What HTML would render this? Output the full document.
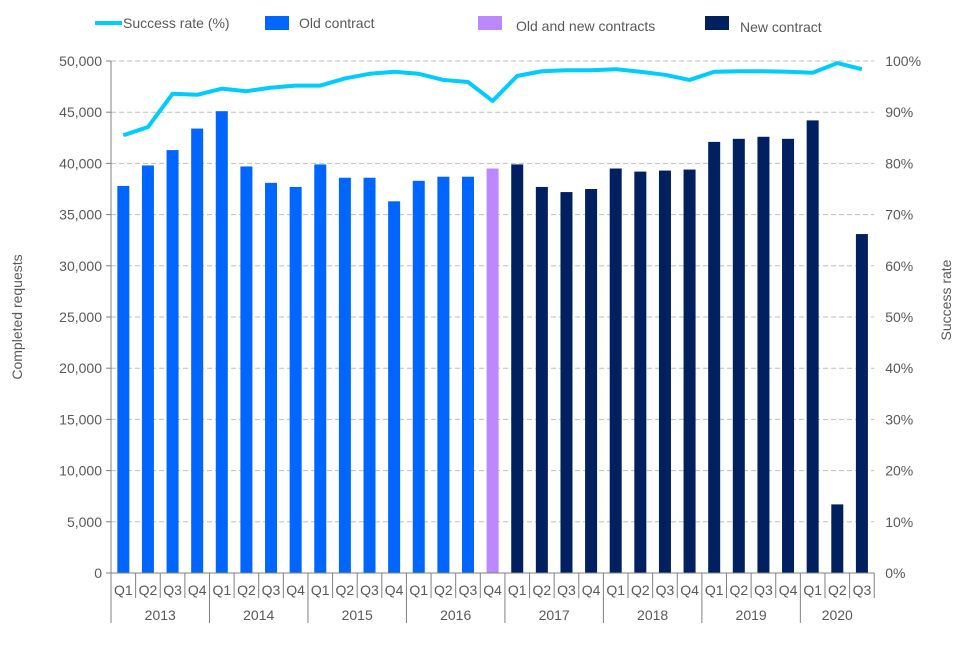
<!DOCTYPE html>
<html><head><meta charset="utf-8"><style>
body{margin:0;background:#fff;}
svg text{font-family:"Liberation Sans",Arial,sans-serif;fill:#595959;}
</style></head><body>
<svg id="c" width="960" height="640" viewBox="0 0 960 640">
<g id="grid"></g><g id="bars"></g><g id="line"></g><g id="axes"></g>
<g>
 <g><line x1="95" y1="23" x2="122" y2="23" stroke="#00CCFF" stroke-width="4"/><text x="123" y="28" font-size="14">Success rate (%)</text></g>
 <g><rect x="265" y="16" width="24" height="14" fill="#0066FF"/><text x="299" y="28" font-size="14">Old contract</text></g>
 <g><rect x="478" y="16" width="24" height="14" fill="#BB88FF"/><text x="516" y="31" font-size="14">Old and new contracts</text></g>
 <g><rect x="705" y="16" width="24" height="14" fill="#002060"/><text x="740" y="32" font-size="14">New contract</text></g>
</g>
<text x="22" y="317" font-size="14" transform="rotate(-90 22 317)" text-anchor="middle">Completed requests</text>
<text x="951" y="300" font-size="14" transform="rotate(-90 951 300)" text-anchor="middle">Success rate</text>
</svg>
<script>
const years=["2013","2014","2015","2016","2017","2018","2019","2020"];
const quarters=["Q1","Q2","Q3","Q4"];
const requests=[37800,39800,41300,43400,45100,39700,38100,37700,39900,38600,38600,36300,38300,38700,38700,39500,39900,37700,37200,37500,39500,39200,39300,39400,42100,42400,42600,42400,44200,6700,33100];
const contractType=["old","old","old","old","old","old","old","old","old","old","old","old","old","old","old","both","new","new","new","new","new","new","new","new","new","new","new","new","new","new","new"];
const successRate=[85.5,87.1,93.6,93.4,94.6,94.1,94.8,95.2,95.2,96.6,97.5,97.9,97.5,96.3,95.9,92.2,97.1,98.0,98.2,98.2,98.4,97.9,97.3,96.3,97.9,98.0,98.0,97.9,97.7,99.6,98.4];
const leftTicks=[0,5000,10000,15000,20000,25000,30000,35000,40000,45000,50000];
const rightTicks=[0,10,20,30,40,50,60,70,80,90,100];
const NS="http://www.w3.org/2000/svg";
const x0=111,cw=24.62,y0=573,h=512;
const yL=v=>y0-v/50000*h, yR=p=>y0-p/100*h, xc=i=>x0+cw*(i+0.5);
const colors={old:"#0066FF",both:"#BB88FF",new:"#002060"};
function mk(t,a,p){const e=document.createElementNS(NS,t);for(const k in a)e.setAttribute(k,a[k]);p.appendChild(e);return e;}
const G=document.getElementById("grid"),B=document.getElementById("bars"),L=document.getElementById("line"),A=document.getElementById("axes");
const xEnd=x0+cw*requests.length;
leftTicks.forEach((v,i)=>{
 if(v>0){const g=mk("line",{x1:x0,x2:xEnd,y1:yL(v),y2:yL(v),stroke:"#BFBFBF","stroke-dasharray":"5,3"},G);
 
 }
 const t=mk("text",{x:x0-9,y:yL(v)+5,"font-size":14,"text-anchor":"end"},A);t.textContent=v.toLocaleString("en-US");
 
 
 mk("line",{x1:x0-5,x2:x0,y1:yL(v),y2:yL(v),stroke:"#808080"},A);
});
rightTicks.forEach(p=>{
 const t=mk("text",{x:xEnd+11,y:yR(p)+5,"font-size":14},A);t.textContent=p+"%";
 
 
});
requests.forEach((v,i)=>{
 const r=mk("rect",{x:xc(i)-6,y:yL(v),width:12,height:y0-yL(v),fill:colors[contractType[i]]},B);
 
 
 const t=mk("text",{x:xc(i),y:y0+22,"font-size":14,"text-anchor":"middle"},A);t.textContent=quarters[i%4];
 
 
 mk("line",{x1:x0+cw*(i+1),x2:x0+cw*(i+1),y1:y0,y2:y0+(i%4==3?50:25),stroke:"#808080"},A);
});
years.forEach((y,k)=>{
 const n=Math.min(4,requests.length-k*4);
 const t=mk("text",{x:x0+cw*(k*4+n/2),y:y0+47,"font-size":14,"text-anchor":"middle"},A);t.textContent=y;
 
 
});
mk("line",{x1:x0,x2:x0,y1:yL(50000),y2:y0+50,stroke:"#808080"},A);
mk("line",{x1:x0,x2:xEnd,y1:y0,y2:y0,stroke:"#808080"},A);
const pl=mk("polyline",{points:successRate.map((p,i)=>xc(i)+","+yR(p)).join(" "),fill:"none",stroke:"#00CCFF","stroke-width":4,"stroke-linejoin":"round"},L);


</script>
</body></html>
